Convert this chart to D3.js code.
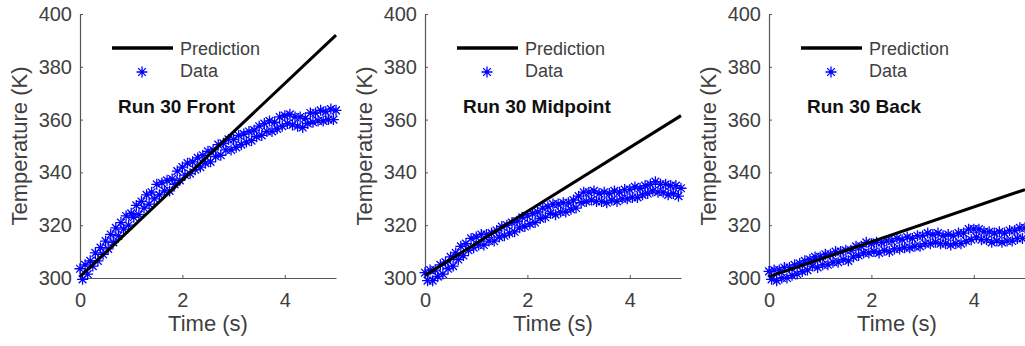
<!DOCTYPE html>
<html>
<head>
<meta charset="utf-8">
<script src="https://cdn.jsdelivr.net/npm/d3@7"></script>
<style>
  html, body { margin: 0; padding: 0; background: #fff; }
  svg { display: block; }
  text { font-family: Arial, "Liberation Sans", Helvetica, sans-serif; }
</style>
</head>
<body>
<svg id="chart" width="1025" height="346"></svg>
<script>
// ---------------- data ----------------
const timeStep = 0.05;
const sampleCount = 101;
const times = d3.range(sampleCount).map(i => +(i * timeStep).toFixed(2));

const frontData = [
  303.5,299.5,305,301.5,306.5,304.5,309.5,306.5,311.5,309,
  314,311,316.5,313.5,319,316,321,318.5,323.5,320,
  324.5,323,327.5,324,329,326.5,331.5,328,332.5,330,
  335.5,331.5,336,333,337,333,337.5,335.5,340.5,337,
  342,339,343.5,339.5,344,341,345.5,342,346.5,343.5,
  348,344,348.5,346,350.5,346.5,351,348.5,352.5,348.5,
  352.5,349.5,354,350.5,354.5,351.5,355.5,352,356,353.5,
  357.5,354,358.5,355.5,359.5,355.5,359,356.5,361,357.5,
  361.5,358.5,362,358,361,357.5,361,357,360.5,358.5,
  362.5,359,362.5,359.5,363.5,359.5,363,360,364,360,
  363.5
];
const midData = [
  302,299,303,299,303,300.5,305,301.5,306,303.5,
  308,304.5,309.5,307,312,308.5,313,310.5,315,311.5,
  315.5,312.5,316.5,312.5,316.5,314,317,314,318,315.5,
  319.5,316,320,317,321,317.5,321.5,319,323,319.5,
  323.5,320.5,324.5,321,325,322.5,326.5,323,327,324.5,
  328,324,328,325,328.5,325,328.5,326,329.5,326.5,
  331,328.5,332.5,329,332.5,329.5,333,329,332,329,
  332.5,328.5,332,329.5,333,329,332.5,330,333.5,330,
  333.5,330.5,334.5,330.5,334,331.5,335,332,335.5,333,
  336.5,332.5,335.5,332.5,335.5,331.5,335,332,335,331,
  334
];
const backData = [
  302.5,299.5,303,299,303,300,304,300,304,301,
  305,301.5,305.5,302.5,306.5,303,307,304.5,308,304,
  308,305,309,305,309,306,310,306,310,307,
  310.5,306.5,310.5,308,312,308.5,312,309.5,313.5,309.5,
  313,310,313.5,309.5,313.5,310.5,314,310,314,311,
  315,311,314.5,311.5,315.5,311.5,315,312,316,312,
  316,313,317,313,316.5,313.5,317,313,316,313,
  316.5,312.5,316,313,317,313,317,314,318.5,314.5,
  318.5,315.5,318.5,314.5,317.5,314.5,317.5,313.5,317,314,
  317.5,313.5,317,314,318,314,318,315,319,315,
  319
];

const predTimes = [0, 5];
const predFront = [300.5, 392];
const predMid = [301, 361.5];
const predBack = [300.5, 333.5];

const panelTitles = ["Run 30 Front", "Run 30 Midpoint", "Run 30 Back"];
const legendLabels = ["Prediction", "Data"];
const xTicks = [0, 2, 4];
const yTicks = [300, 320, 340, 360, 380, 400];
const xLabel = "Time (s)";
const yLabel = "Temperature (K)";

const panels = [
  { title: panelTitles[0], data: frontData, pred: predFront, left: 80 },
  { title: panelTitles[1], data: midData,   pred: predMid,   left: 425 },
  { title: panelTitles[2], data: backData,  pred: predBack,  left: 769 }
];

// ---------------- drawing ----------------
const svg = d3.select("#chart");
const plotW = 256, plotTop = 14, plotBottom = 278;
const textColor = "#404040", axisColor = "#555";
const blue = "#0000ff";

function asteriskPath(r) {
  const d = r * 0.7;
  return `M${-r},0H${r}M0,${-r}V${r}M${-d},${-d}L${d},${d}M${-d},${d}L${d},${-d}`;
}
const star = asteriskPath(5.5);

panels.forEach(p => {
  const x = d3.scaleLinear().domain([0, 5]).range([p.left, p.left + plotW]);
  const y = d3.scaleLinear().domain([300, 400]).range([plotBottom, plotTop]);
  const g = svg.append("g");

  // axes
  const yAxis = d3.axisLeft(y).tickValues(yTicks).tickFormat(d3.format("d"))
    .tickSizeInner(-3).tickSizeOuter(0).tickPadding(8);
  const xAxis = d3.axisBottom(x).tickValues(xTicks).tickFormat(d3.format("d"))
    .tickSizeInner(-3).tickSizeOuter(0).tickPadding(15);
  const ya = g.append("g").attr("transform", `translate(${p.left},0)`).call(yAxis);
  const xa = g.append("g").attr("transform", `translate(0,${plotBottom})`).call(xAxis);
  [ya, xa].forEach(a => {
    a.select(".domain").attr("stroke", axisColor).attr("stroke-width", 1.2);
    a.selectAll(".tick line").attr("stroke", axisColor);
    a.selectAll(".tick text").attr("fill", textColor).style("font-size", "20px")
      .style("font-family", "Arial, 'Liberation Sans', sans-serif");
  });

  // axis labels
  g.append("text")
    .attr("transform", `translate(${p.left - 53},${(plotTop + plotBottom) / 2}) rotate(-90)`)
    .attr("text-anchor", "middle").attr("fill", textColor)
    .style("font-size", "22px").text(yLabel);
  g.append("text")
    .attr("x", p.left + plotW / 2).attr("y", 331)
    .attr("text-anchor", "middle").attr("fill", textColor)
    .style("font-size", "22px").text(xLabel);

  // data (asterisks)
  g.append("g").selectAll("path").data(p.data).join("path")
    .attr("d", star)
    .attr("transform", (d, i) => `translate(${x(times[i])},${y(d)})`)
    .attr("stroke", blue).attr("stroke-width", 1.3).attr("fill", "none");

  // prediction line
  const line = d3.line().x((d, i) => x(predTimes[i])).y(d => y(d));
  g.append("path").datum(p.pred).attr("d", line)
    .attr("stroke", "#000").attr("stroke-width", 3).attr("fill", "none");

  // legend
  const lx = p.left + 32;
  g.append("line").attr("x1", lx).attr("x2", lx + 61).attr("y1", 48).attr("y2", 48)
    .attr("stroke", "#000").attr("stroke-width", 3.5);
  g.append("text").attr("x", lx + 68).attr("y", 55).attr("fill", textColor)
    .style("font-size", "18px").text(legendLabels[0]);
  g.append("path").attr("d", star).attr("transform", `translate(${lx + 30},72)`)
    .attr("stroke", blue).attr("stroke-width", 1.3).attr("fill", "none");
  g.append("text").attr("x", lx + 68).attr("y", 77).attr("fill", textColor)
    .style("font-size", "18px").text(legendLabels[1]);

  // title
  g.append("text").attr("x", p.left + 38).attr("y", 113).attr("fill", "#111")
    .style("font-size", "19px").style("font-weight", "bold").text(p.title);
});
</script>
</body>
</html>
